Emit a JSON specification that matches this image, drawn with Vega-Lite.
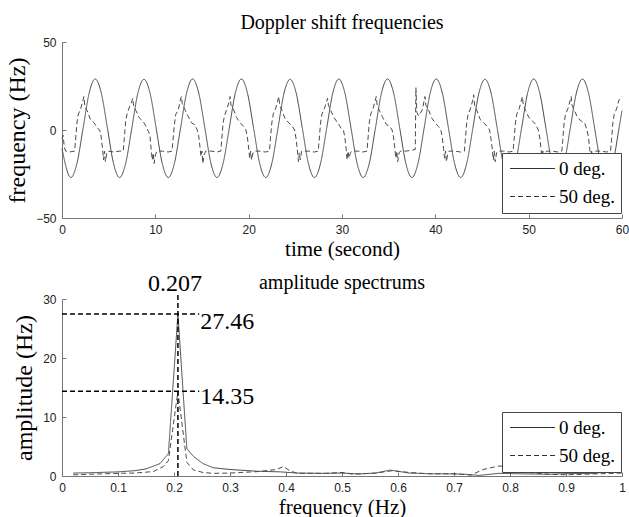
{
  "$schema": "https://vega.github.io/schema/vega-lite/v6.json",
  "background": "white",
  "padding": {"left": 5, "top": 13, "right": 5, "bottom": 5},
  "bounds": "flush",
  "spacing": 81,
  "config": {
    "font": "Liberation Serif",
    "view": {"stroke": null},
    "axis": {
      "domainColor": "#777", "tickColor": "#777", "grid": false,
      "labelFont": "Liberation Sans", "labelFontSize": 12, "labelColor": "#222",
      "titleFont": "Liberation Serif", "titleFontWeight": "normal", "titleColor": "#000",
      "tickSize": -4, "labelPadding": 10, "labelFlush": false, "labelOverlap": false
    },
    "axisX": {"titleFontSize": 21, "titlePadding": 3},
    "axisY": {"titleFontSize": 24, "titlePadding": 6},
    "legend": {
      "symbolType": "M-1,0H5", "symbolSize": 225, "symbolStrokeWidth": 1, "symbolStrokeColor": "#333",
      "labelFont": "Liberation Serif", "labelFontSize": 19, "labelColor": "#000", "labelOffset": 32,
      "fillColor": "white", "strokeColor": "#444", "padding": 6, "rowPadding": 8, "labelLimit": 300
    },
    "title": {"font": "Liberation Serif", "fontWeight": "normal", "color": "#000"}
  },
  "resolve": {"scale": {"strokeDash": "independent"}, "legend": {"strokeDash": "independent"}},
  "datasets": {
    "d0": [
      {"t":0,"v":-10.6},{"t":0.95,"v":-27},{"t":1.6,"v":-19},{"t":2.26,"v":1},{"t":2.91,"v":21},{"t":3.56,"v":29},{"t":4.21,"v":21},{"t":4.87,"v":1},{"t":5.52,"v":-19},
      {"t":6.17,"v":-27},{"t":6.82,"v":-19},{"t":7.48,"v":1},{"t":8.13,"v":21},{"t":8.78,"v":28.8},{"t":9.43,"v":21},{"t":10.09,"v":1},{"t":10.74,"v":-19},
      {"t":11.39,"v":-27},{"t":12.04,"v":-19},{"t":12.7,"v":1},{"t":13.35,"v":21},{"t":14.0,"v":29},{"t":14.65,"v":21},{"t":15.31,"v":1},{"t":15.96,"v":-19},
      {"t":16.61,"v":-27},{"t":17.26,"v":-19},{"t":17.92,"v":1},{"t":18.57,"v":21},{"t":19.22,"v":29},{"t":19.87,"v":21},{"t":20.53,"v":1},{"t":21.18,"v":-19},
      {"t":21.83,"v":-27},{"t":22.48,"v":-19},{"t":23.14,"v":1},{"t":23.79,"v":21},{"t":24.44,"v":28.8},{"t":25.09,"v":21},{"t":25.75,"v":1},{"t":26.4,"v":-19},
      {"t":27.05,"v":-27},{"t":27.7,"v":-19},{"t":28.36,"v":1},{"t":29.01,"v":21},{"t":29.66,"v":29},{"t":30.31,"v":21},{"t":30.97,"v":1},{"t":31.62,"v":-19},
      {"t":32.27,"v":-27},{"t":32.92,"v":-19},{"t":33.58,"v":1},{"t":34.23,"v":21},{"t":34.88,"v":29},{"t":35.53,"v":21},{"t":36.19,"v":1},{"t":36.84,"v":-19},
      {"t":37.49,"v":-27},{"t":38.14,"v":-19},{"t":38.8,"v":1},{"t":39.45,"v":21},{"t":40.1,"v":29},{"t":40.75,"v":21},{"t":41.41,"v":1},{"t":42.06,"v":-19},
      {"t":42.71,"v":-27},{"t":43.36,"v":-19},{"t":44.02,"v":1},{"t":44.67,"v":21},{"t":45.32,"v":28.8},{"t":45.97,"v":21},{"t":46.63,"v":1},{"t":47.28,"v":-19},
      {"t":47.93,"v":-27},{"t":48.58,"v":-19},{"t":49.24,"v":1},{"t":49.89,"v":21},{"t":50.54,"v":29},{"t":51.19,"v":21},{"t":51.85,"v":1},{"t":52.5,"v":-19},
      {"t":53.15,"v":-27},{"t":53.8,"v":-19},{"t":54.46,"v":1},{"t":55.11,"v":21},{"t":55.76,"v":29},{"t":56.41,"v":21},{"t":57.07,"v":1},{"t":57.72,"v":-19},
      {"t":58.37,"v":-27},{"t":59.02,"v":-19},{"t":59.68,"v":1},{"t":60,"v":11}
    ],
    "d50": [
      {"t":0,"v":-5},{"t":0.12,"v":-3},{"t":0.25,"v":-10},{"t":0.4,"v":-12},{"t":0.8,"v":-12.5},
      {"t":1.35,"v":-12},{"t":1.45,"v":-6},{"t":1.6,"v":4},{"t":1.75,"v":9},{"t":2.0,"v":12},{"t":2.25,"v":17},{"t":2.35,"v":19},{"t":2.45,"v":13},{"t":2.7,"v":11},{"t":3.05,"v":6},{"t":3.45,"v":4},{"t":3.8,"v":1},{"t":4.05,"v":0},{"t":4.2,"v":-4},{"t":4.35,"v":-11},{"t":4.45,"v":-17},{"t":4.55,"v":-12},{"t":4.65,"v":-18},{"t":4.8,"v":-13},{"t":4.95,"v":-12},{"t":5.55,"v":-12.5},{"t":6.15,"v":-12},
      {"t":6.57,"v":-12},{"t":6.67,"v":-5},{"t":6.82,"v":5},{"t":6.97,"v":9},{"t":7.22,"v":13},{"t":7.47,"v":16},{"t":7.57,"v":18},{"t":7.67,"v":14},{"t":7.92,"v":11},{"t":8.27,"v":7},{"t":8.67,"v":5},{"t":9.02,"v":2},{"t":9.27,"v":-1},{"t":9.42,"v":-3},{"t":9.57,"v":-12},{"t":9.67,"v":-17},{"t":9.77,"v":-13},{"t":9.87,"v":-19},{"t":10.02,"v":-14},{"t":10.17,"v":-12},{"t":10.77,"v":-12},{"t":11.37,"v":-12.5},
      {"t":11.79,"v":-12},{"t":11.89,"v":-6},{"t":12.04,"v":3},{"t":12.19,"v":9},{"t":12.44,"v":11},{"t":12.69,"v":17},{"t":12.79,"v":19},{"t":12.89,"v":15},{"t":13.14,"v":12},{"t":13.49,"v":8},{"t":13.89,"v":4},{"t":14.24,"v":3},{"t":14.49,"v":0},{"t":14.64,"v":-3},{"t":14.79,"v":-10},{"t":14.89,"v":-15},{"t":14.99,"v":-12},{"t":15.09,"v":-19},{"t":15.24,"v":-14},{"t":15.39,"v":-12},{"t":15.99,"v":-12},{"t":16.59,"v":-12.5},
      {"t":17.01,"v":-12},{"t":17.11,"v":-6},{"t":17.26,"v":4},{"t":17.41,"v":8},{"t":17.66,"v":12},{"t":17.91,"v":16},{"t":18.01,"v":19},{"t":18.11,"v":14},{"t":18.36,"v":12},{"t":18.71,"v":7},{"t":19.11,"v":4},{"t":19.46,"v":2},{"t":19.71,"v":0},{"t":19.86,"v":-4},{"t":20.01,"v":-11},{"t":20.11,"v":-16},{"t":20.21,"v":-12},{"t":20.31,"v":-17},{"t":20.46,"v":-13},{"t":20.61,"v":-12},{"t":21.21,"v":-12},{"t":21.81,"v":-12.5},
      {"t":22.23,"v":-12},{"t":22.33,"v":-5},{"t":22.48,"v":4},{"t":22.63,"v":9},{"t":22.88,"v":12},{"t":23.13,"v":17},{"t":23.23,"v":19},{"t":23.33,"v":14},{"t":23.58,"v":11},{"t":23.93,"v":6},{"t":24.33,"v":4},{"t":24.68,"v":2},{"t":24.93,"v":0},{"t":25.08,"v":-5},{"t":25.23,"v":-12},{"t":25.33,"v":-18},{"t":25.43,"v":-13},{"t":25.53,"v":-17},{"t":25.68,"v":-12},{"t":25.83,"v":-12},{"t":26.43,"v":-12},{"t":27.03,"v":-12.5},
      {"t":27.45,"v":-12},{"t":27.55,"v":-6},{"t":27.7,"v":4},{"t":27.85,"v":9},{"t":28.1,"v":12},{"t":28.35,"v":16},{"t":28.45,"v":18},{"t":28.55,"v":14},{"t":28.8,"v":11},{"t":29.15,"v":7},{"t":29.55,"v":4},{"t":29.9,"v":1},{"t":30.15,"v":0},{"t":30.3,"v":-4},{"t":30.45,"v":-11},{"t":30.55,"v":-17},{"t":30.65,"v":-12},{"t":30.75,"v":-16},{"t":30.9,"v":-13},{"t":31.05,"v":-12},{"t":31.65,"v":-12},{"t":32.25,"v":-12.5},
      {"t":32.67,"v":-12},{"t":32.77,"v":-6},{"t":32.92,"v":4},{"t":33.07,"v":9},{"t":33.32,"v":12},{"t":33.57,"v":17},{"t":33.67,"v":19},{"t":33.77,"v":14},{"t":34.02,"v":11},{"t":34.37,"v":7},{"t":34.77,"v":3},{"t":35.12,"v":2},{"t":35.37,"v":0},{"t":35.52,"v":-4},{"t":35.67,"v":-11},{"t":35.77,"v":-16},{"t":35.87,"v":-12},{"t":35.97,"v":-18},{"t":36.12,"v":-13},{"t":36.27,"v":-12},{"t":36.87,"v":-12},{"t":37.47,"v":-11.5},
      {"t":37.85,"v":-11},{"t":37.92,"v":24},{"t":38.02,"v":10},{"t":38.2,"v":8},{"t":38.45,"v":10},{"t":38.65,"v":12},{"t":38.8,"v":17},{"t":38.89,"v":19},{"t":38.99,"v":14},{"t":39.24,"v":12},{"t":39.59,"v":7},{"t":39.99,"v":4},{"t":40.34,"v":2},{"t":40.59,"v":0},{"t":40.74,"v":-4},{"t":40.89,"v":-11},{"t":40.99,"v":-16},{"t":41.09,"v":-12},{"t":41.19,"v":-18},{"t":41.34,"v":-13},{"t":41.49,"v":-12},{"t":42.09,"v":-12},{"t":42.69,"v":-12.5},
      {"t":43.11,"v":-12},{"t":43.21,"v":-6},{"t":43.36,"v":4},{"t":43.51,"v":9},{"t":43.76,"v":12},{"t":44.01,"v":17},{"t":44.11,"v":20},{"t":44.21,"v":14},{"t":44.46,"v":11},{"t":44.81,"v":6},{"t":45.21,"v":4},{"t":45.56,"v":2},{"t":45.81,"v":0},{"t":45.96,"v":-5},{"t":46.11,"v":-11},{"t":46.21,"v":-17},{"t":46.31,"v":-12},{"t":46.41,"v":-18},{"t":46.56,"v":-13},{"t":46.71,"v":-12},{"t":47.31,"v":-12},{"t":47.91,"v":-12.5},
      {"t":48.33,"v":-12},{"t":48.43,"v":-6},{"t":48.58,"v":4},{"t":48.73,"v":9},{"t":48.98,"v":12},{"t":49.23,"v":17},{"t":49.33,"v":19},{"t":49.43,"v":14},{"t":49.68,"v":11},{"t":50.03,"v":7},{"t":50.43,"v":5},{"t":50.78,"v":3},{"t":51.03,"v":0},{"t":51.18,"v":-4},{"t":51.33,"v":-11},{"t":51.43,"v":-15},{"t":51.53,"v":-12},{"t":51.63,"v":-18},{"t":51.78,"v":-13},{"t":51.93,"v":-12},{"t":52.53,"v":-12},{"t":53.13,"v":-12.5},
      {"t":53.55,"v":-12},{"t":53.65,"v":-6},{"t":53.8,"v":4},{"t":53.95,"v":9},{"t":54.2,"v":12},{"t":54.45,"v":17},{"t":54.55,"v":19},{"t":54.65,"v":14},{"t":54.9,"v":11},{"t":55.25,"v":7},{"t":55.65,"v":5},{"t":56.0,"v":4},{"t":56.25,"v":0},{"t":56.4,"v":-4},{"t":56.55,"v":-11},{"t":56.65,"v":-16},{"t":56.75,"v":-12},{"t":56.85,"v":-18},{"t":57.0,"v":-13},{"t":57.15,"v":-12},{"t":57.75,"v":-12},{"t":58.35,"v":-12.5},
      {"t":58.77,"v":-12},{"t":58.87,"v":-6},{"t":59.02,"v":4},{"t":59.17,"v":9},{"t":59.42,"v":12},{"t":59.67,"v":17},{"t":60,"v":19}
    ],
    "s0": [
      {"f":0.02,"a":0.5},{"f":0.05,"a":0.55},{"f":0.1,"a":0.7},{"f":0.13,"a":0.9},{"f":0.15,"a":1.2},{"f":0.175,"a":2.1},{"f":0.19,"a":3.8},{"f":0.207,"a":27.46},{"f":0.223,"a":4.6},{"f":0.235,"a":3.3},{"f":0.252,"a":2.1},{"f":0.27,"a":1.4},{"f":0.3,"a":1.1},{"f":0.35,"a":0.8},{"f":0.39,"a":0.7},{"f":0.42,"a":0.5},{"f":0.47,"a":0.45},{"f":0.5,"a":0.5},{"f":0.53,"a":0.35},{"f":0.56,"a":0.5},{"f":0.586,"a":1.0},{"f":0.62,"a":0.5},{"f":0.65,"a":0.4},{"f":0.7,"a":0.35},{"f":0.72,"a":0.3},{"f":0.745,"a":0.1},{"f":0.78,"a":0.45},{"f":0.83,"a":0.35},{"f":0.87,"a":0.3},{"f":0.9,"a":0.4},{"f":0.95,"a":0.45},{"f":0.98,"a":0.8},{"f":1.0,"a":0.65}
    ],
    "s50": [
      {"f":0.02,"a":0.2},{"f":0.05,"a":0.3},{"f":0.1,"a":0.45},{"f":0.13,"a":0.5},{"f":0.163,"a":0.75},{"f":0.181,"a":1.6},{"f":0.19,"a":2.6},{"f":0.207,"a":14.35},{"f":0.223,"a":2.3},{"f":0.235,"a":1.0},{"f":0.252,"a":0.6},{"f":0.27,"a":0.45},{"f":0.3,"a":0.5},{"f":0.35,"a":0.75},{"f":0.383,"a":1.1},{"f":0.395,"a":1.6},{"f":0.407,"a":0.9},{"f":0.42,"a":0.45},{"f":0.47,"a":0.45},{"f":0.5,"a":0.6},{"f":0.52,"a":0.3},{"f":0.56,"a":0.5},{"f":0.59,"a":0.9},{"f":0.62,"a":0.6},{"f":0.66,"a":0.35},{"f":0.7,"a":0.4},{"f":0.73,"a":0.15},{"f":0.752,"a":1.1},{"f":0.78,"a":1.7},{"f":0.8,"a":1.5},{"f":0.83,"a":0.6},{"f":0.87,"a":0.3},{"f":0.9,"a":0.2},{"f":0.95,"a":0.35},{"f":1.0,"a":0.5}
    ],
    "guides": [
      {"x0":0.207,"x1":0.207,"y0":0,"y1":31},
      {"x0":0,"x1":0.245,"y0":27.46,"y1":27.46},
      {"x0":0,"x1":0.245,"y0":14.35,"y1":14.35}
    ],
    "lblTop": [{"x":0.207,"y":31,"label":"0.207"}],
    "lblA": [{"x":0.245,"y":27.46,"label":"27.46"}],
    "lblB": [{"x":0.245,"y":14.35,"label":"14.35"}]
  },
  "vconcat": [
    {
      "width": 560,
      "height": 176,
      "title": {"text": "Doppler shift frequencies", "fontSize": 20, "offset": 3, "font": "Liberation Serif", "fontWeight": "normal"},
      "layer": [
        {
          "data": {"name": "d0"},
          "mark": {"type": "line", "interpolate": "monotone", "color": "#4a4a4a", "strokeWidth": 1},
          "encoding": {
            "x": {"field": "t", "type": "quantitative", "scale": {"domain": [0, 60], "nice": false}, "axis": {"values": [0, 10, 20, 30, 40, 50, 60], "title": "time (second)"}},
            "y": {"field": "v", "type": "quantitative", "scale": {"domain": [-50, 50], "nice": false}, "axis": {"values": [-50, 0, 50], "title": "frequency (Hz)"}},
            "strokeDash": {"datum": "0 deg.", "scale": {"domain": ["0 deg.", "50 deg."], "range": [[1, 0], [5, 3]]}, "legend": {"title": null, "orient": "none", "legendX": 440, "legendY": 111, "labelFont": "Liberation Serif"}}
          }
        },
        {
          "data": {"name": "d50"},
          "mark": {"type": "line", "color": "#4a4a4a", "strokeWidth": 1},
          "encoding": {
            "x": {"field": "t", "type": "quantitative"},
            "y": {"field": "v", "type": "quantitative"},
            "strokeDash": {"datum": "50 deg."}
          }
        }
      ]
    },
    {
      "width": 560,
      "height": 177,
      "title": {"text": "amplitude spectrums", "fontSize": 20, "offset": -21, "font": "Liberation Serif", "fontWeight": "normal"},
      "layer": [
        {
          "data": {"name": "s0"},
          "mark": {"type": "line", "color": "#4a4a4a", "strokeWidth": 1},
          "encoding": {
            "x": {"field": "f", "type": "quantitative", "scale": {"domain": [0, 1], "nice": false}, "axis": {"values": [0, 0.1, 0.2, 0.3, 0.4, 0.5, 0.6, 0.7, 0.8, 0.9, 1], "format": "~g", "title": "frequency (Hz)"}},
            "y": {"field": "a", "type": "quantitative", "scale": {"domain": [0, 30], "nice": false}, "axis": {"values": [0, 5, 10, 15, 20, 25, 30], "title": "amplitude (Hz)"}},
            "strokeDash": {"datum": "0 deg.", "scale": {"domain": ["0 deg.", "50 deg."], "range": [[1, 0], [5, 3]]}, "legend": {"title": null, "orient": "none", "legendX": 440, "legendY": 113, "labelFont": "Liberation Serif"}}
          }
        },
        {
          "data": {"name": "s50"},
          "mark": {"type": "line", "color": "#4a4a4a", "strokeWidth": 1},
          "encoding": {
            "x": {"field": "f", "type": "quantitative"},
            "y": {"field": "a", "type": "quantitative"},
            "strokeDash": {"datum": "50 deg."}
          }
        },
        {
          "data": {"name": "guides"},
          "mark": {"type": "rule", "color": "#000", "strokeWidth": 1.5, "strokeDash": [5, 3]},
          "encoding": {
            "x": {"field": "x0", "type": "quantitative"},
            "x2": {"field": "x1"},
            "y": {"field": "y0", "type": "quantitative"},
            "y2": {"field": "y1"}
          }
        },
        {
          "data": {"name": "lblTop"},
          "mark": {"type": "text", "font": "Liberation Serif", "fontSize": 24, "color": "#000", "align": "center", "baseline": "bottom", "dx": -3, "dy": 3},
          "encoding": {
            "x": {"field": "x", "type": "quantitative"},
            "y": {"field": "y", "type": "quantitative"},
            "text": {"field": "label"}
          }
        },
        {
          "data": {"name": "lblA"},
          "mark": {"type": "text", "font": "Liberation Serif", "fontSize": 24, "color": "#000", "align": "left", "baseline": "middle", "dx": 1, "dy": 8},
          "encoding": {
            "x": {"field": "x", "type": "quantitative"},
            "y": {"field": "y", "type": "quantitative"},
            "text": {"field": "label"}
          }
        },
        {
          "data": {"name": "lblB"},
          "mark": {"type": "text", "font": "Liberation Serif", "fontSize": 24, "color": "#000", "align": "left", "baseline": "middle", "dx": 1, "dy": 6},
          "encoding": {
            "x": {"field": "x", "type": "quantitative"},
            "y": {"field": "y", "type": "quantitative"},
            "text": {"field": "label"}
          }
        }
      ]
    }
  ]
}
